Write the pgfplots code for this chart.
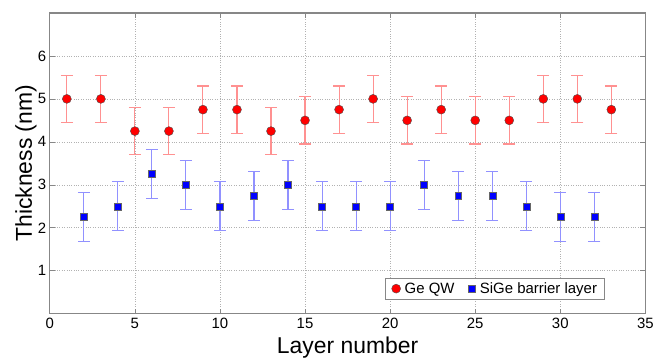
\documentclass[border=0pt]{standalone}
\usepackage{fontspec}
\setmainfont{Liberation Sans}
\usepackage{pgfplots}
\pgfplotsset{compat=1.18}
\definecolor{ered}{RGB}{255,145,145}
\definecolor{eblue}{RGB}{145,145,255}
\definecolor{framegray}{RGB}{135,135,135}
\begin{document}
\begin{tikzpicture}[x=1pt,y=1pt]
\begin{axis}[
  scale only axis,
  width=598pt, height=302pt,
  xmin=0, xmax=35, ymin=0, ymax=7,
  xtick={0,5,...,35}, ytick={1,2,...,6},
  tick align=inside,
  major tick length=5pt,
  axis line style={framegray, line width=1.3pt},
  tick style={framegray, line width=0.6pt},
  grid=major,
  grid style={black!30, dotted, line width=0.6pt},
  /pgf/number format/assume math mode=true,
  ticklabel style={font=\fontsize{15}{15}\selectfont},
  xticklabel style={yshift=-1pt},
  xlabel={Layer number}, ylabel={Thickness (nm)},
  label style={font=\fontsize{23}{23}\selectfont},
  xlabel style={at={(axis description cs:0.5,0)}, anchor=base, yshift=-40pt},
  ylabel style={at={(axis description cs:0,0.5)}, anchor=base, yshift=18pt},
  legend columns=2,
  legend style={at={(0.931,0.047)}, anchor=south east, font=\fontsize{15}{15}\selectfont, draw=framegray, line width=0.6pt, inner xsep=5pt, inner ysep=2.5pt, /tikz/every even column/.append style={column sep=9pt}},
  legend cell align=left,
  legend image code/.code={\path (0cm,0cm) (0.42cm,0cm); \draw[#1] plot coordinates {(0.2cm,0cm)};},
]
\addplot[only marks, mark=*, mark size=4.5pt, mark options={fill=red, draw=black!70, line width=0.4pt},
  error bars/.cd, y dir=both, y explicit,
  error bar style={color=ered, line width=1.1pt},
  error mark options={rotate=90, mark size=6pt, color=ered, line width=1.1pt}]
coordinates {
(1,5) +- (0,0.55)
(3,5) +- (0,0.55)
(5,4.25) +- (0,0.55)
(7,4.25) +- (0,0.55)
(9,4.75) +- (0,0.55)
(11,4.75) +- (0,0.55)
(13,4.25) +- (0,0.55)
(15,4.5) +- (0,0.55)
(17,4.75) +- (0,0.55)
(19,5) +- (0,0.55)
(21,4.5) +- (0,0.55)
(23,4.75) +- (0,0.55)
(25,4.5) +- (0,0.55)
(27,4.5) +- (0,0.55)
(29,5) +- (0,0.55)
(31,5) +- (0,0.55)
(33,4.75) +- (0,0.55)
};
\addlegendentry{Ge QW}
\addplot[only marks, mark=square*, mark size=3.5pt, mark options={fill=blue, draw=black!60, line width=0.4pt},
  error bars/.cd, y dir=both, y explicit,
  error bar style={color=eblue, line width=1.1pt},
  error mark options={rotate=90, mark size=6pt, color=eblue, line width=1.1pt}]
coordinates {
(2,2.25) +- (0,0.57)
(4,2.5) +- (0,0.57)
(6,3.25) +- (0,0.57)
(8,3) +- (0,0.57)
(10,2.5) +- (0,0.57)
(12,2.75) +- (0,0.57)
(14,3) +- (0,0.57)
(16,2.5) +- (0,0.57)
(18,2.5) +- (0,0.57)
(20,2.5) +- (0,0.57)
(22,3) +- (0,0.57)
(24,2.75) +- (0,0.57)
(26,2.75) +- (0,0.57)
(28,2.5) +- (0,0.57)
(30,2.25) +- (0,0.57)
(32,2.25) +- (0,0.57)
};
\addlegendentry{SiGe barrier layer}
\end{axis}
\path ([yshift=13pt]current axis.north west) ([xshift=9pt]current axis.south east) ([xshift=-50pt,yshift=-43pt]current axis.south west);
\end{tikzpicture}
\end{document}
